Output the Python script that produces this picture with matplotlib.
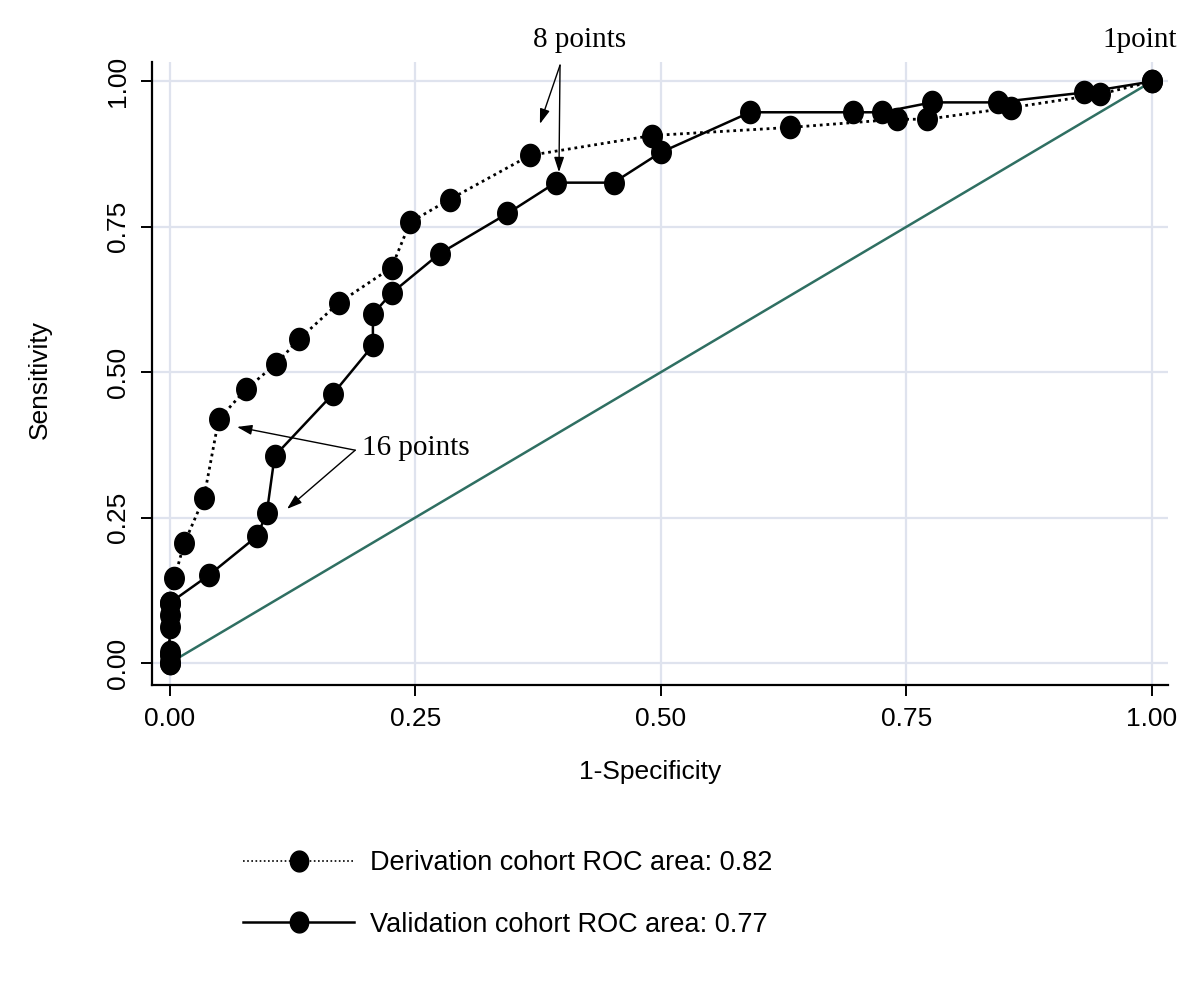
import numpy as np
import matplotlib
matplotlib.use("Agg")
import matplotlib.pyplot as plt
from matplotlib.path import Path

# derivation cohort (dotted)
deriv_fpr = [0.0, 0.0, 0.0, 0.0, 0.0, 0.005, 0.015, 0.035, 0.050, 0.078, 0.108,
             0.132, 0.172, 0.226, 0.245, 0.285, 0.367, 0.491, 0.632, 0.740,
             0.771, 0.857, 0.947, 1.0]
deriv_sens = [0.0, 0.019, 0.062, 0.082, 0.103, 0.146, 0.206, 0.284, 0.419, 0.471,
              0.514, 0.557, 0.619, 0.680, 0.758, 0.797, 0.873, 0.907, 0.921,
              0.935, 0.935, 0.955, 0.978, 1.0]

# validation cohort (solid)
valid_fpr = [0.0, 0.0, 0.0, 0.040, 0.089, 0.099, 0.107, 0.166, 0.207, 0.207,
             0.226, 0.275, 0.344, 0.393, 0.452, 0.500, 0.591, 0.696, 0.725,
             0.776, 0.843, 0.931, 1.0]
valid_sens = [0.0, 0.014, 0.103, 0.151, 0.218, 0.258, 0.356, 0.462, 0.546, 0.600,
              0.636, 0.704, 0.773, 0.826, 0.826, 0.878, 0.947, 0.947, 0.947,
              0.964, 0.964, 0.981, 1.0]

ref_line = [0.0, 1.0]
ticks = [0.0, 0.25, 0.5, 0.75, 1.0]
tick_labels = ["0.00", "0.25", "0.50", "0.75", "1.00"]

deriv_label = "Derivation cohort ROC area: 0.82"
valid_label = "Validation cohort ROC area: 0.77"

# slightly tall ellipse marker
t = np.linspace(0, 2 * np.pi, 60)
ell = Path(np.column_stack([0.88 * np.cos(t), np.sin(t)]), closed=True)

sans = "Liberation Sans"
serif = "Liberation Serif"

fig = plt.figure(figsize=(12, 9.82), dpi=100)
ax = fig.add_axes([0.1267, 0.3024, 0.8466, 0.6345])

ax.set_xlim(-0.0178, 1.0163)
ax.set_ylim(-0.0378, 1.0335)

for v in ticks:
    ax.axhline(v, color="#dfe3ee", lw=1.6, zorder=0)
    ax.axvline(v, color="#dfe3ee", lw=1.6, zorder=0)

ax.plot(ref_line, ref_line, color="#2f6f62", lw=1.8, zorder=2)
ax.plot(deriv_fpr, deriv_sens, color="black", lw=2.0, ls=(0, (1, 1.4)),
        marker=ell, ms=16, mfc="black", mec="black", zorder=3, label=deriv_label)
ax.plot(valid_fpr, valid_sens, color="black", lw=1.8, ls="-",
        marker=ell, ms=16, mfc="black", mec="black", zorder=3, label=valid_label)

for s in ["top", "right"]:
    ax.spines[s].set_visible(False)
for s in ["left", "bottom"]:
    ax.spines[s].set_linewidth(1.6)

ax.set_xticks(ticks)
ax.set_xticklabels(tick_labels, fontfamily=sans, fontsize=19)
ax.set_yticks(ticks)
ax.set_yticklabels(tick_labels, fontfamily=sans, fontsize=19,
                   rotation=90, va="center")
ax.tick_params(axis="both", length=8, width=1.4, pad=8)

ax.set_xlabel("1-Specificity", fontfamily=sans, fontsize=19, va="center")
ax.xaxis.set_label_coords(0.490, -0.1396)
ax.set_ylabel("Sensitivity", fontfamily=sans, fontsize=19, va="center")
ax.yaxis.set_label_coords(-0.110, 0.49)

arrow = dict(arrowstyle="-|>,head_length=0.9,head_width=0.3", color="black",
             lw=1.0, shrinkA=0, shrinkB=0)

ax.text(0.4177, 1.0714, "8 points", fontfamily=serif, fontsize=21,
        ha="center", va="center", clip_on=False)
ax.annotate("", xy=(0.377, 0.927), xytext=(0.3975, 1.028), arrowprops=arrow,
            annotation_clip=False)
ax.annotate("", xy=(0.3964, 0.844), xytext=(0.3975, 1.028), arrowprops=arrow,
            annotation_clip=False)

ax.text(0.196, 0.370, "16 points", fontfamily=serif, fontsize=21,
        ha="left", va="center")
ax.annotate("", xy=(0.0687, 0.406), xytext=(0.189, 0.366), arrowprops=arrow)
ax.annotate("", xy=(0.1196, 0.265), xytext=(0.189, 0.366), arrowprops=arrow)

ax.text(0.988, 1.0714, "1point", fontfamily=serif, fontsize=21,
        ha="center", va="center", clip_on=False)

leg = fig.legend(loc="upper left", bbox_to_anchor=(0.2025, 1 - 850 / 982),
                 frameon=False, handlelength=4.1, handletextpad=0.6,
                 labelspacing=1.32, borderpad=0, borderaxespad=0,
                 prop={"family": sans, "size": 19.5}, markerscale=1.0)
for h in leg.legend_handles:
    h.set_markersize(15)
leg.legend_handles[0].set_linewidth(1.2)
leg.legend_handles[0].set_linestyle((0, (1, 1.5)))

fig.savefig("out.png", dpi=100, facecolor="white")
